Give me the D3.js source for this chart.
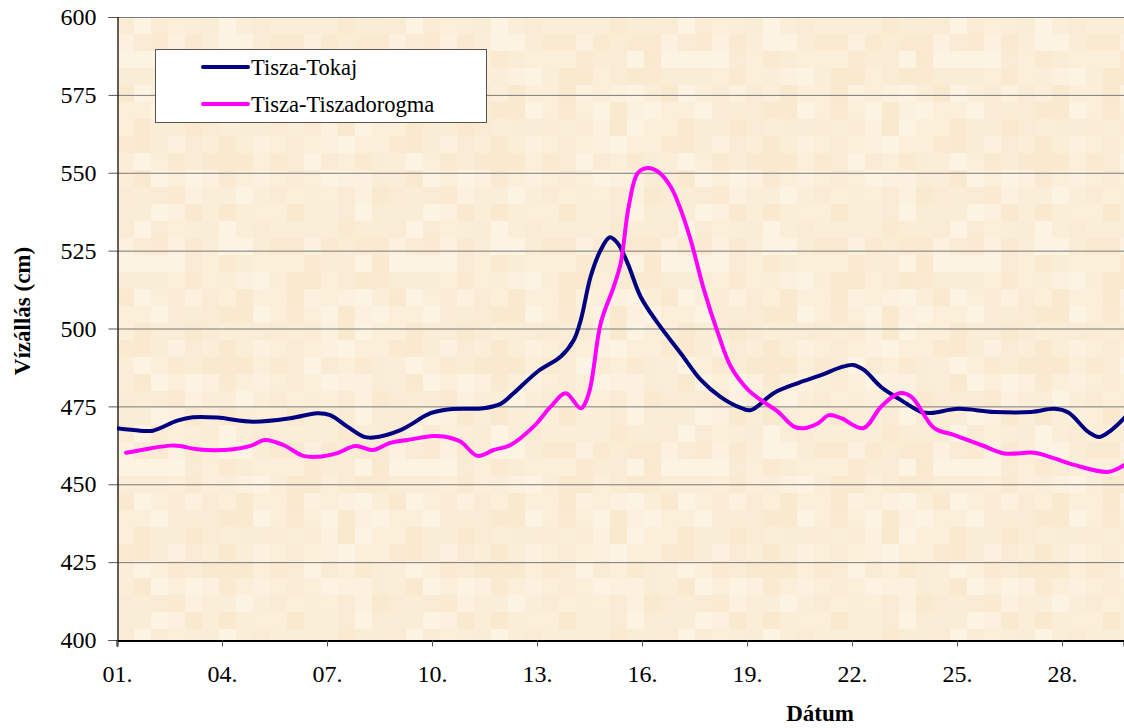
<!DOCTYPE html>
<html>
<head>
<meta charset="utf-8">
<script src="https://cdn.jsdelivr.net/npm/d3@7"></script>
<style>
  html, body { margin: 0; padding: 0; background: #ffffff; }
  svg { display: block; }
</style>
</head>
<body>
<svg id="chart" width="1124" height="728"></svg>
<script>
// ---- data ----
const seriesNames = ["Tisza-Tokaj", "Tisza-Tiszadorogma"];

const tokajDays = [0.97, 1.66, 2.03, 2.72, 3.17, 3.86, 4.89, 5.95, 6.72, 7.09, 7.58, 8.04, 8.32, 9.10, 9.96,
  10.53, 11.47, 11.96, 12.33, 13.02, 13.68, 14.05, 14.25, 14.53, 14.82, 15.08, 15.31, 15.59, 15.96, 16.45,
  17.11, 17.68, 18.25, 18.83, 19.11, 19.77, 20.46, 21.11, 21.69, 22.03, 22.34, 22.83, 23.40, 23.98, 24.26,
  25.03, 26.06, 27.12, 27.78, 28.18, 28.75, 29.07, 29.41, 29.81];
const tokajLevels = [468.0, 467.2, 467.2, 470.4, 471.5, 471.4, 470.1, 471.2, 472.8, 472.2, 468.5, 465.3, 465.0, 467.4, 472.8,
  474.1, 474.4, 475.8, 479.2, 486.2, 491.0, 496.3, 502.7, 516.6, 525.2, 529.3, 527.3, 520.9, 510.2, 501.7,
  492.0, 483.5, 478.0, 474.5, 473.8, 479.3, 482.5, 485.0, 487.6, 488.3, 486.7, 481.2, 477.0, 473.2, 472.9,
  474.2, 473.2, 473.2, 474.2, 473.0, 466.8, 465.2, 467.4, 471.6];

const dorogmaDays = [1.26, 1.94, 2.52, 2.80, 3.29, 4.32, 4.81, 5.23, 5.75, 6.32, 6.72, 7.29, 7.81, 8.30, 8.81,
  9.30, 10.04, 10.33, 10.81, 11.30, 11.76, 12.24, 12.90, 13.39, 13.82, 14.25, 14.48, 14.82, 15.19, 15.39,
  15.62, 15.88, 16.16, 16.45, 16.82, 17.11, 17.39, 17.77, 18.17, 18.54, 19.03, 19.40, 19.88, 20.34, 20.63,
  21.03, 21.34, 21.69, 22.32, 22.83, 23.35, 23.69, 24.35, 24.92, 25.69, 26.35, 27.21, 27.78, 28.35, 29.33, 29.78];
const dorogmaLevels = [460.1, 461.5, 462.4, 462.3, 461.2, 461.2, 462.3, 464.2, 462.6, 459.1, 458.8, 460.0, 462.3, 461.0, 463.3,
  464.2, 465.5, 465.3, 463.7, 459.1, 461.0, 462.6, 468.5, 474.9, 479.2, 474.4, 479.2, 501.7, 513.4, 520.9,
  539.2, 549.9, 551.5, 550.4, 545.5, 538.0, 528.4, 512.4, 498.5, 487.7, 480.3, 477.0, 473.3, 468.5, 468.0,
  469.6, 472.2, 471.2, 468.0, 474.9, 479.2, 478.1, 468.0, 465.8, 462.6, 459.9, 460.1, 458.3, 456.2, 454.0, 456.2];

const yTicks = [400, 425, 450, 475, 500, 525, 550, 575, 600];
const xTickDays = [1, 4, 7, 10, 13, 16, 19, 22, 25, 28];
const xTickLabels = ["01.", "04.", "07.", "10.", "13.", "16.", "19.", "22.", "25.", "28."];
const yTitle = "Vízállás (cm)";
const xTitle = "Dátum";

// ---- layout ----
const FONT = "Liberation Serif, Times New Roman, DejaVu Serif, serif";
const svg = d3.select("#chart").attr("font-family", FONT);
const plot = { left: 117, top: 17, right: 1124, bottom: 640 };

const x = d3.scaleLinear().domain([1, 29.77]).range([plot.left, plot.right]);
const y = d3.scaleLinear().domain([400, 600]).range([plot.bottom, plot.top]);

// subtle parchment mosaic texture of the plot area (decoration only)
const defs = svg.append("defs");
const tones = ["#faecd4", "#fbeed8", "#fcf1de", "#f9ead1", "#fbefda", "#faedd6", "#fcf3e3", "#f9e9cf"];
const cell = 17;
const cols = 16, rows = 12;
const pat = defs.append("pattern").attr("id", "mosaic")
  .attr("patternUnits", "userSpaceOnUse")
  .attr("x", plot.left).attr("y", plot.top)
  .attr("width", cell * cols).attr("height", cell * rows);
function hash(a, b) {
  const h = Math.sin(a * 127.1 + b * 311.7) * 43758.5453;
  return h - Math.floor(h);
}
for (let r = 0; r < rows; r++) {
  for (let c = 0; c < cols; c++) {
    pat.append("rect")
      .attr("x", c * cell).attr("y", r * cell)
      .attr("width", cell).attr("height", cell)
      .attr("fill", tones[Math.floor(hash(r, c) * tones.length)]);
  }
}

svg.append("rect")
  .attr("x", plot.left).attr("y", plot.top)
  .attr("width", plot.right - plot.left).attr("height", plot.bottom - plot.top)
  .attr("fill", "url(#mosaic)");

defs.append("clipPath").attr("id", "clip")
  .append("rect")
  .attr("x", plot.left).attr("y", plot.top - 5)
  .attr("width", plot.right - plot.left).attr("height", plot.bottom - plot.top + 5);

// gridlines
svg.append("g")
  .selectAll("line")
  .data(yTicks.filter(d => d !== 400))
  .join("line")
  .attr("x1", plot.left).attr("x2", plot.right)
  .attr("y1", d => y(d) + 0.5).attr("y2", d => y(d) + 0.5)
  .attr("stroke", "#7a7a7a").attr("stroke-width", 1);

// y axis
const yAxis = d3.axisLeft(y).tickValues(yTicks).tickSize(9).tickPadding(12).tickFormat(d3.format("d"));
const gy = svg.append("g").attr("transform", `translate(${plot.left + 0.5},0)`).call(yAxis)
  .attr("font-family", FONT).attr("font-size", 24);
gy.select(".domain").attr("stroke", "#000").attr("stroke-width", 1.2);
gy.selectAll(".tick line").attr("stroke", "#555");
gy.selectAll(".tick text").attr("fill", "#000").attr("font-family", FONT).attr("font-size", 24);

// x axis
const xAxis = d3.axisBottom(x).tickValues(xTickDays).tickSize(6).tickPadding(18)
  .tickFormat((d, i) => xTickLabels[i]);
const gx = svg.append("g").attr("transform", `translate(0,${plot.bottom + 0.5})`).call(xAxis)
  .attr("font-family", FONT).attr("font-size", 24);
gx.select(".domain").attr("stroke", "#000").attr("stroke-width", 2);
gx.selectAll(".tick line").attr("stroke", "#555");
gx.selectAll(".tick text").attr("fill", "#000").attr("font-family", FONT).attr("font-size", 24);

// lines
const line = d3.line()
  .x(d => x(d[0]))
  .y(d => y(d[1]))
  .curve(d3.curveCatmullRom.alpha(0.5));

const tokaj = tokajDays.map((d, i) => [d, tokajLevels[i]]);
const dorogma = dorogmaDays.map((d, i) => [d, dorogmaLevels[i]]);
const colors = ["#000080", "#ff00ff"];

const lines = svg.append("g").attr("clip-path", "url(#clip)");
lines.append("path").datum(tokaj)
  .attr("d", line).attr("fill", "none")
  .attr("stroke", colors[0]).attr("stroke-width", 4)
  .attr("stroke-linejoin", "round").attr("stroke-linecap", "round");
lines.append("path").datum(dorogma)
  .attr("d", line).attr("fill", "none")
  .attr("stroke", colors[1]).attr("stroke-width", 4)
  .attr("stroke-linejoin", "round").attr("stroke-linecap", "round");

// legend
const lg = svg.append("g");
lg.append("rect")
  .attr("x", 155.5).attr("y", 49.5).attr("width", 331).attr("height", 73)
  .attr("fill", "#ffffff").attr("stroke", "#555").attr("stroke-width", 1);
seriesNames.forEach((name, i) => {
  const cy = 67 + i * 37;
  lg.append("line")
    .attr("x1", 203).attr("x2", 248).attr("y1", cy).attr("y2", cy)
    .attr("stroke", colors[i]).attr("stroke-width", 4).attr("stroke-linecap", "round");
  lg.append("text")
    .attr("x", 251).attr("y", cy + 8)
    .attr("font-family", FONT).attr("font-size", 22.5).attr("fill", "#000")
    .text(name);
});

// axis titles
svg.append("text")
  .attr("transform", "translate(30,311) rotate(-90)")
  .attr("text-anchor", "middle")
  .attr("font-family", FONT).attr("font-size", 23).attr("font-weight", "bold")
  .text(yTitle);

svg.append("text")
  .attr("x", 820).attr("y", 721)
  .attr("text-anchor", "middle")
  .attr("font-family", FONT).attr("font-size", 23).attr("font-weight", "bold")
  .text(xTitle);
</script>
</body>
</html>
